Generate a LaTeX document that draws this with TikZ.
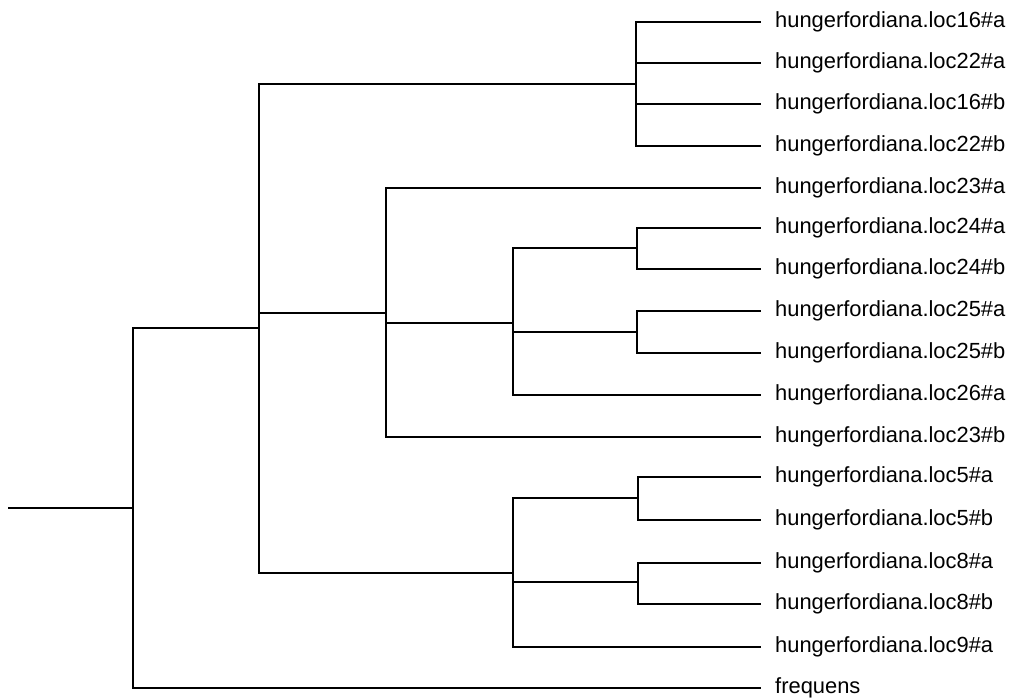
\documentclass[tikz,border=0pt]{standalone}
\usepackage{fontspec}
\setmainfont{Liberation Sans}
\begin{document}
\begin{tikzpicture}[x=1pt,y=-1pt,
  branch/.style={line width=2.2pt,line cap=rect},
  leaf/.style={anchor=west,inner sep=0pt,font=\fontsize{21.9}{24}\selectfont}]
\useasboundingbox (0,0) rectangle (1014,697);
% leaf tips and labels
\foreach \i/\y/\t in {1/22/hungerfordiana.loc16\#a,2/63/hungerfordiana.loc22\#a,3/104/hungerfordiana.loc16\#b,4/146/hungerfordiana.loc22\#b,5/188/hungerfordiana.loc23\#a,6/228/hungerfordiana.loc24\#a,7/269/hungerfordiana.loc24\#b,8/311/hungerfordiana.loc25\#a,9/353/hungerfordiana.loc25\#b,10/395/hungerfordiana.loc26\#a,11/437/hungerfordiana.loc23\#b,12/477/hungerfordiana.loc5\#a,13/520/hungerfordiana.loc5\#b,14/563/hungerfordiana.loc8\#a,15/604/hungerfordiana.loc8\#b,16/647/hungerfordiana.loc9\#a,17/688/frequens}{
  \coordinate (t\i) at (760,\y);
  \node[leaf] (l\i) at (775,\y) {\t};
}
% internal nodes
\coordinate (A) at (636,84);
\coordinate (F) at (637,248);
\coordinate (G) at (637,332);
\coordinate (D) at (513,323);
\coordinate (B) at (386,313);
\coordinate (H) at (638,498);
\coordinate (I) at (638,582);
\coordinate (E) at (513,573);
\coordinate (K) at (259,328);
\coordinate (R) at (133,508);
\coordinate (S) at (9,508);
% connectors
\foreach \c in {t1,t2,t3,t4} \draw[branch] (A) |- (\c);
\foreach \c in {t6,t7} \draw[branch] (F) |- (\c);
\foreach \c in {t8,t9} \draw[branch] (G) |- (\c);
\foreach \c in {F,G,t10} \draw[branch] (D) |- (\c);
\foreach \c in {t5,D,t11} \draw[branch] (B) |- (\c);
\foreach \c in {t12,t13} \draw[branch] (H) |- (\c);
\foreach \c in {t14,t15} \draw[branch] (I) |- (\c);
\foreach \c in {H,I,t16} \draw[branch] (E) |- (\c);
\foreach \c in {A,B,E} \draw[branch] (K) |- (\c);
\foreach \c in {K,t17} \draw[branch] (R) |- (\c);
\draw[branch] (S) -- (R);
\end{tikzpicture}
\end{document}
